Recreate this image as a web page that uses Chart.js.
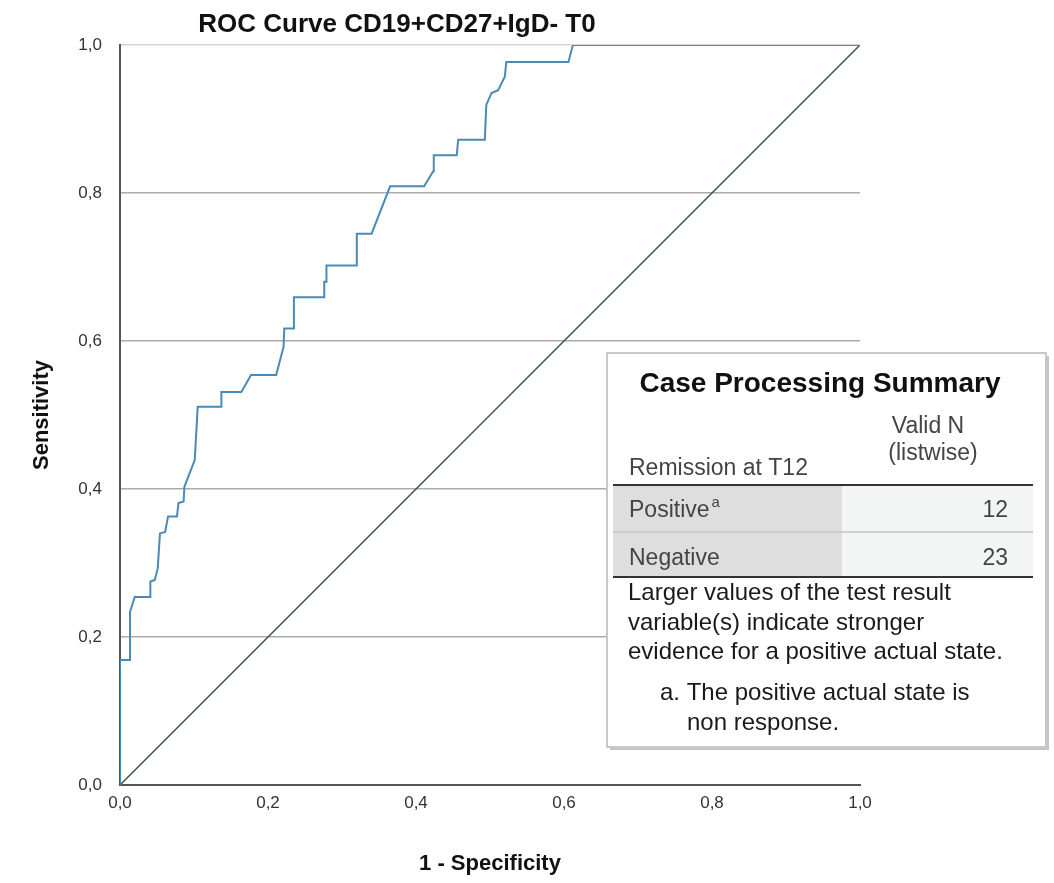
<!DOCTYPE html>
<html>
<head>
<meta charset="utf-8">
<script src="https://cdn.jsdelivr.net/npm/chart.js@4.4.1/dist/chart.umd.min.js"></script>
<style>
  html, body { margin: 0; padding: 0; background: #fff; }
  #wrap { width: 1054px; height: 883px; position: relative; }
</style>
</head>
<body>
<div id="wrap"><canvas id="roc"></canvas></div>
<script>
// ROC curve points (1 - specificity, sensitivity)
const fpr = [0, 0, 0.0135, 0.0135, 0.020, 0.041, 0.041, 0.047, 0.051, 0.054, 0.061, 0.065, 0.077, 0.079, 0.086, 0.087, 0.101, 0.105, 0.137, 0.137, 0.164, 0.177, 0.211, 0.221, 0.222, 0.235, 0.235, 0.276, 0.276, 0.279, 0.279, 0.320, 0.320, 0.340, 0.365, 0.411, 0.423, 0.424, 0.455, 0.457, 0.493, 0.495, 0.502, 0.511, 0.520, 0.522, 0.606, 0.612, 1.0];
const tpr = [0, 0.169, 0.169, 0.234, 0.254, 0.254, 0.275, 0.277, 0.293, 0.340, 0.342, 0.363, 0.363, 0.381, 0.383, 0.403, 0.439, 0.511, 0.511, 0.531, 0.531, 0.554, 0.554, 0.592, 0.617, 0.617, 0.659, 0.659, 0.680, 0.680, 0.702, 0.702, 0.745, 0.745, 0.809, 0.809, 0.829, 0.851, 0.851, 0.872, 0.872, 0.919, 0.935, 0.939, 0.957, 0.977, 0.977, 1.0, 1.0];

// reference line
const refX = [0, 1];
const refY = [0, 1];

const tickValues = [0, 0.2, 0.4, 0.6, 0.8, 1.0];

// case processing summary
const caseLabels = ["Positive", "Negative"];
const caseCounts = [12, 23];
const footLines = [
  "Larger values of the test result",
  "variable(s) indicate stronger",
  "evidence for a positive actual state."
];
const noteLines = ["a. The positive actual state is", "non response."];

const FONT = "'Liberation Sans', Arial, sans-serif";
const fmt = v => Number(v).toFixed(1).replace(".", ",");

const annotations = {
  id: "annotations",
  afterDraw(chart) {
    const ctx = chart.ctx;
    const a = chart.chartArea;
    ctx.save();

    // title
    ctx.fillStyle = "#111";
    ctx.font = "bold 26px " + FONT;
    ctx.textAlign = "center";
    ctx.textBaseline = "alphabetic";
    ctx.fillText("ROC Curve CD19+CD27+IgD- T0", 397, 32);

    // axis titles
    ctx.font = "bold 22px " + FONT;
    ctx.fillText("1 - Specificity", (a.left + a.right) / 2, 870);
    ctx.save();
    ctx.translate(48, (a.top + a.bottom) / 2);
    ctx.rotate(-Math.PI / 2);
    ctx.fillText("Sensitivity", 0, 0);
    ctx.restore();

    // summary box
    const bx = 607, by = 353, bw = 439, bh = 394;
    ctx.fillStyle = "#c4c4c4";
    ctx.fillRect(bx + 3, by + 3, bw, bh);
    ctx.fillStyle = "#fff";
    ctx.fillRect(bx, by, bw, bh);
    ctx.strokeStyle = "#c8c8c8";
    ctx.lineWidth = 2;
    ctx.strokeRect(bx, by, bw, bh);

    ctx.fillStyle = "#111";
    ctx.font = "bold 28px " + FONT;
    ctx.textAlign = "center";
    ctx.fillText("Case Processing Summary", 820, 392);

    ctx.fillStyle = "#444";
    ctx.font = "23px " + FONT;
    ctx.fillText("Valid N", 928, 433);
    ctx.fillText("(listwise)", 933, 460);
    ctx.textAlign = "left";
    ctx.fillText("Remission at T12", 629, 475);

    // rows
    const rowTop = [485, 532];
    const rowH = [47, 44];
    for (let i = 0; i < caseLabels.length; i++) {
      ctx.fillStyle = "#dedede";
      ctx.fillRect(613, rowTop[i], 229, rowH[i]);
      ctx.fillStyle = "#f3f4f4";
      ctx.fillRect(842, rowTop[i], 191, rowH[i]);
    }
    ctx.strokeStyle = "#c4c4c4";
    ctx.lineWidth = 1.5;
    ctx.beginPath(); ctx.moveTo(613, 532); ctx.lineTo(1033, 532); ctx.stroke();
    ctx.strokeStyle = "#333";
    ctx.lineWidth = 2;
    ctx.beginPath(); ctx.moveTo(613, 485); ctx.lineTo(1033, 485); ctx.stroke();
    ctx.beginPath(); ctx.moveTo(613, 577); ctx.lineTo(1033, 577); ctx.stroke();

    const base = [517, 565];
    for (let i = 0; i < caseLabels.length; i++) {
      ctx.fillStyle = "#444";
      ctx.font = "23px " + FONT;
      ctx.textAlign = "left";
      ctx.fillText(caseLabels[i], 629, base[i]);
      if (i === 0) {
        const w = ctx.measureText(caseLabels[i]).width;
        ctx.font = "15px " + FONT;
        ctx.fillText("a", 629 + w + 2, base[i] - 10);
        ctx.font = "23px " + FONT;
      }
      ctx.textAlign = "right";
      ctx.fillText(String(caseCounts[i]), 1008, base[i]);
    }

    // footnotes
    ctx.fillStyle = "#1a1a1a";
    ctx.font = "24px " + FONT;
    ctx.textAlign = "left";
    footLines.forEach((t, i) => ctx.fillText(t, 628, 600 + i * 29.5));
    ctx.fillText(noteLines[0], 660, 700);
    ctx.fillText(noteLines[1], 687, 730);

    ctx.restore();
  }
};

new Chart(document.getElementById("roc"), {
  type: "scatter",
  data: {
    datasets: [
      {
        label: "ROC",
        data: fpr.map((x, i) => ({ x: x, y: tpr[i] })),
        showLine: true,
        borderColor: "#4a8bb5",
        borderWidth: 2,
        pointRadius: 0,
        tension: 0,
        fill: false,
      },
      {
        label: "Reference",
        data: refX.map((x, i) => ({ x: x, y: refY[i] })),
        showLine: true,
        borderColor: "#34525e",
        borderWidth: 1.5,
        pointRadius: 0,
        fill: false,
      },
    ],
  },
  options: {
    responsive: true,
    maintainAspectRatio: false,
    animation: false,
    layout: { padding: { top: 45, right: 194, bottom: 0, left: 0 } },
    plugins: { legend: { display: false }, tooltip: { enabled: false } },
    scales: {
      x: {
        type: "linear",
        min: 0,
        max: 1,
        afterFit: s => { s.height = 98; },
        afterBuildTicks: s => { s.ticks = tickValues.map(v => ({ value: v })); },
        grid: { color: "rgba(0,0,0,0)", drawTicks: false },
        border: { display: true, color: "#555", width: 2 },
        ticks: {
          padding: 8,
          color: "#333",
          font: { family: FONT, size: 17 },
          callback: v => fmt(v),
          maxRotation: 0,
        },
      },
      y: {
        type: "linear",
        min: 0,
        max: 1,
        afterFit: s => { s.width = 120; },
        afterBuildTicks: s => { s.ticks = tickValues.map(v => ({ value: v })); },
        grid: {
          drawTicks: false,
          color: c => (c.tick.value === 0 ? "rgba(0,0,0,0)" : c.tick.value === 1 ? "#d6d6d6" : "#ababab"),
          lineWidth: 1.5,
        },
        border: { display: true, color: "#555", width: 2 },
        ticks: {
          padding: 18,
          color: "#333",
          font: { family: FONT, size: 17 },
          callback: v => fmt(v),
        },
      },
    },
  },
  plugins: [annotations],
});
</script>
</body>
</html>
